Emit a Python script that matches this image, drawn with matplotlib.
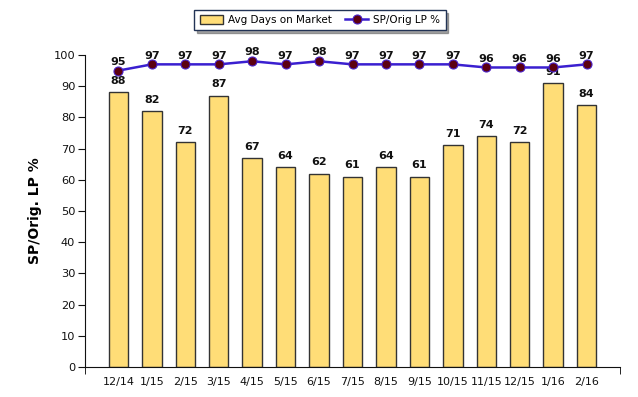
import numpy as np
import matplotlib.pyplot as plt

months = ['12/14', '1/15', '2/15', '3/15', '4/15', '5/15', '6/15', '7/15',
          '8/15', '9/15', '10/15', '11/15', '12/15', '1/16', '2/16']
avg_days = [88, 82, 72, 87, 67, 64, 62, 61, 64, 61, 71, 74, 72, 91, 84]
sp_orig = [95, 97, 97, 97, 98, 97, 98, 97, 97, 97, 97, 96, 96, 96, 97]

plt.rcParams['font.family'] = ['DejaVu Sans']

fig = plt.figure(figsize=(6.38, 3.97), dpi=100)
ax = fig.add_axes([85 / 638, 1 - 367 / 397, 535 / 638, 312 / 397])

x = np.arange(len(months))
bars = ax.bar(x, avg_days, width=0.58, color='#FFDD77', edgecolor='#333333',
              linewidth=1.0, label='Avg Days on Market', zorder=2)
for xi, v in zip(x, avg_days):
    ax.text(xi, v + 2.0, str(v), ha='center', va='bottom', fontsize=8,
            fontweight='bold', color='#111111', zorder=4)

line, = ax.plot(x, sp_orig, color='#3A1FD0', linewidth=1.8, marker='o', markersize=6.5,
                markerfacecolor='#5C0010', markeredgecolor='#4A22C8', markeredgewidth=0.8,
                label='SP/Orig LP %', zorder=5)
for xi, v in zip(x, sp_orig):
    ax.text(xi, v + 1.2, str(v), ha='center', va='bottom', fontsize=8,
            fontweight='bold', color='#111111', zorder=6)

ax.set_xlim(-1, 15)
ax.set_ylim(0, 100)
ax.set_yticks(range(0, 101, 10))
ax.set_xticks(x)
ax.set_xticklabels(months)
ax.tick_params(axis='x', length=0, labelsize=8, pad=7, colors='#111111')
ax.tick_params(axis='y', length=5, labelsize=8.2, pad=2, colors='#111111')
ax.set_xticks([-1, 15], minor=True)
ax.tick_params(axis='x', which='minor', length=5, direction='out')
for s in ['top', 'right']:
    ax.spines[s].set_visible(False)
ax.spines['left'].set_color('#111111')
ax.spines['bottom'].set_color('#111111')
ax.set_ylabel('SP/Orig. LP %', fontsize=10, fontweight='bold', labelpad=8)

leg = fig.legend([bars, line], ['Avg Days on Market', 'SP/Orig LP %'],
                 loc='center', bbox_to_anchor=(320 / 638, 1 - 20 / 397), ncol=2,
                 fontsize=7.5, frameon=True, fancybox=False, shadow=True,
                 handlelength=2.2, handleheight=0.9, handletextpad=0.5,
                 columnspacing=1.3, borderpad=0.5)
leg.get_frame().set_edgecolor('#223355')
leg.get_frame().set_linewidth(1.0)

fig.savefig('out.png', dpi=100)
